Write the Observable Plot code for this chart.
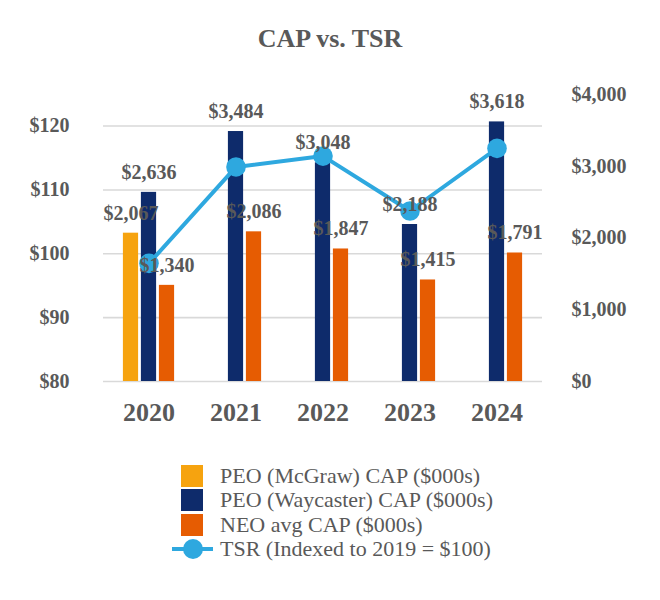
<!DOCTYPE html>
<html>
<head>
<meta charset="utf-8">
<script src="https://cdn.jsdelivr.net/npm/d3@7"></script>
<script src="https://cdn.jsdelivr.net/npm/@observablehq/plot@0.6"></script>
<style>
  html, body { margin: 0; padding: 0; background: #fff; }
  #wrap { position: relative; width: 660px; height: 600px; font-family: "Liberation Serif", "Times New Roman", serif; color: #595959; }
  #title { position: absolute; left: 0; width: 660px; top: 22px; text-align: center; font-size: 26px; font-weight: bold; line-height: 34px; }
  #chart { position: absolute; left: 0; top: 70px; }
  #legend { position: absolute; left: 172px; top: 464px; font-size: 22px; line-height: 24.3px; font-family: "Liberation Serif", "Times New Roman", serif; }
  .row { display: flex; align-items: center; height: 24.3px; }
  .sw { width: 22px; height: 22px; margin-left: 9px; margin-right: 17px; }
  .ln { position: relative; width: 41px; height: 22px; margin-right: 7px; }
  .ln::before { content: ""; position: absolute; left: 0; right: 0; top: 9px; height: 4px; background: #2EA8DF; }
  .ln::after { content: ""; position: absolute; left: 11px; top: 1px; width: 20px; height: 20px; border-radius: 50%; background: #2EA8DF; }
</style>
</head>
<body>
<div id="wrap">
  <div id="title">CAP vs. TSR</div>
  <div id="chart"></div>
  <div id="legend"></div>
</div>
<script>
const years = ["2020", "2021", "2022", "2023", "2024"];
const mcgrawCap = [2067, null, null, null, null];
const waycasterCap = [2636, 3484, 3048, 2188, 3618];
const neoCap = [1340, 2086, 1847, 1415, 1791];
const tsr = [98.5, 113.6, 115.3, 106.7, 116.5];
const leftTicks = [80, 90, 100, 110, 120];
const rightTicks = [0, 1000, 2000, 3000, 4000];
const seriesNames = ["PEO (McGraw) CAP ($000s)", "PEO (Waycaster) CAP ($000s)", "NEO avg CAP ($000s)", "TSR (Indexed to 2019 = $100)"];
const seriesColors = ["#F6A30F", "#0E2B6B", "#E65C02", "#2EA8DF"];

// secondary (left) axis mapping: TSR value -> primary scale units
const k = 89;
const toY = t => (t - 80) * k;

const bars = [];
[mcgrawCap, waycasterCap, neoCap].forEach((arr, si) => {
  arr.forEach((v, i) => { if (v != null) bars.push({year: years[i], value: v, s: si}); });
});
const line = years.map((y, i) => ({year: y, v: toY(tsr[i])}));
const fmt = d3.format(",");
const offs = [-18, 0, 18];

const marks = [
  Plot.ruleY(leftTicks.map(toY), {stroke: "#D9D9D9", strokeWidth: 1.6}),
  Plot.axisY({anchor: "left", ticks: leftTicks.map(toY), tickSize: 0, tickPadding: 34,
    tickFormat: d => "$" + Math.round(80 + d / k), label: null, fontSize: 20}),
  Plot.axisY({anchor: "right", ticks: rightTicks, tickSize: 0, tickPadding: 29,
    tickFormat: d => "$" + fmt(d), label: null, fontSize: 20}),
  Plot.axisX({tickSize: 0, tickPadding: 21, fontSize: 26, label: null})
];
[0, 1, 2].forEach(si => {
  marks.push(Plot.barY(bars.filter(d => d.s === si), {x: "year", y: "value", fill: seriesColors[si],
    insetLeft: 35.9, insetRight: 35.9, dx: offs[si]}));
});
marks.push(Plot.line(line, {x: "year", y: "v", stroke: seriesColors[3], strokeWidth: 4}));
marks.push(Plot.dot(line, {x: "year", y: "v", r: 9.8, fill: seriesColors[3]}));
[0, 1, 2].forEach(si => {
  marks.push(Plot.text(bars.filter(d => d.s === si), {x: "year", y: "value", text: d => "$" + fmt(d.value),
    dx: offs[si], dy: -20, fontSize: 20, fontWeight: "bold", fill: "#595959"}));
});

const chart = Plot.plot({
  width: 660, height: 380,
  marginLeft: 103, marginRight: 118, marginTop: 24, marginBottom: 69,
  x: {type: "band", domain: years, padding: 0},
  y: {domain: [0, 4000]},
  style: {fontFamily: "'Liberation Serif', 'Times New Roman', serif", fontWeight: "bold", color: "#595959", background: "white", overflow: "visible"},
  marks
});
document.getElementById("chart").appendChild(chart);

const legend = document.getElementById("legend");
seriesNames.forEach((name, i) => {
  const row = document.createElement("div");
  row.className = "row";
  const sw = document.createElement("div");
  if (i < 3) { sw.className = "sw"; sw.style.background = seriesColors[i]; }
  else { sw.className = "ln"; }
  const t = document.createElement("span");
  t.textContent = name;
  row.appendChild(sw); row.appendChild(t);
  legend.appendChild(row);
});
</script>
</body>
</html>
